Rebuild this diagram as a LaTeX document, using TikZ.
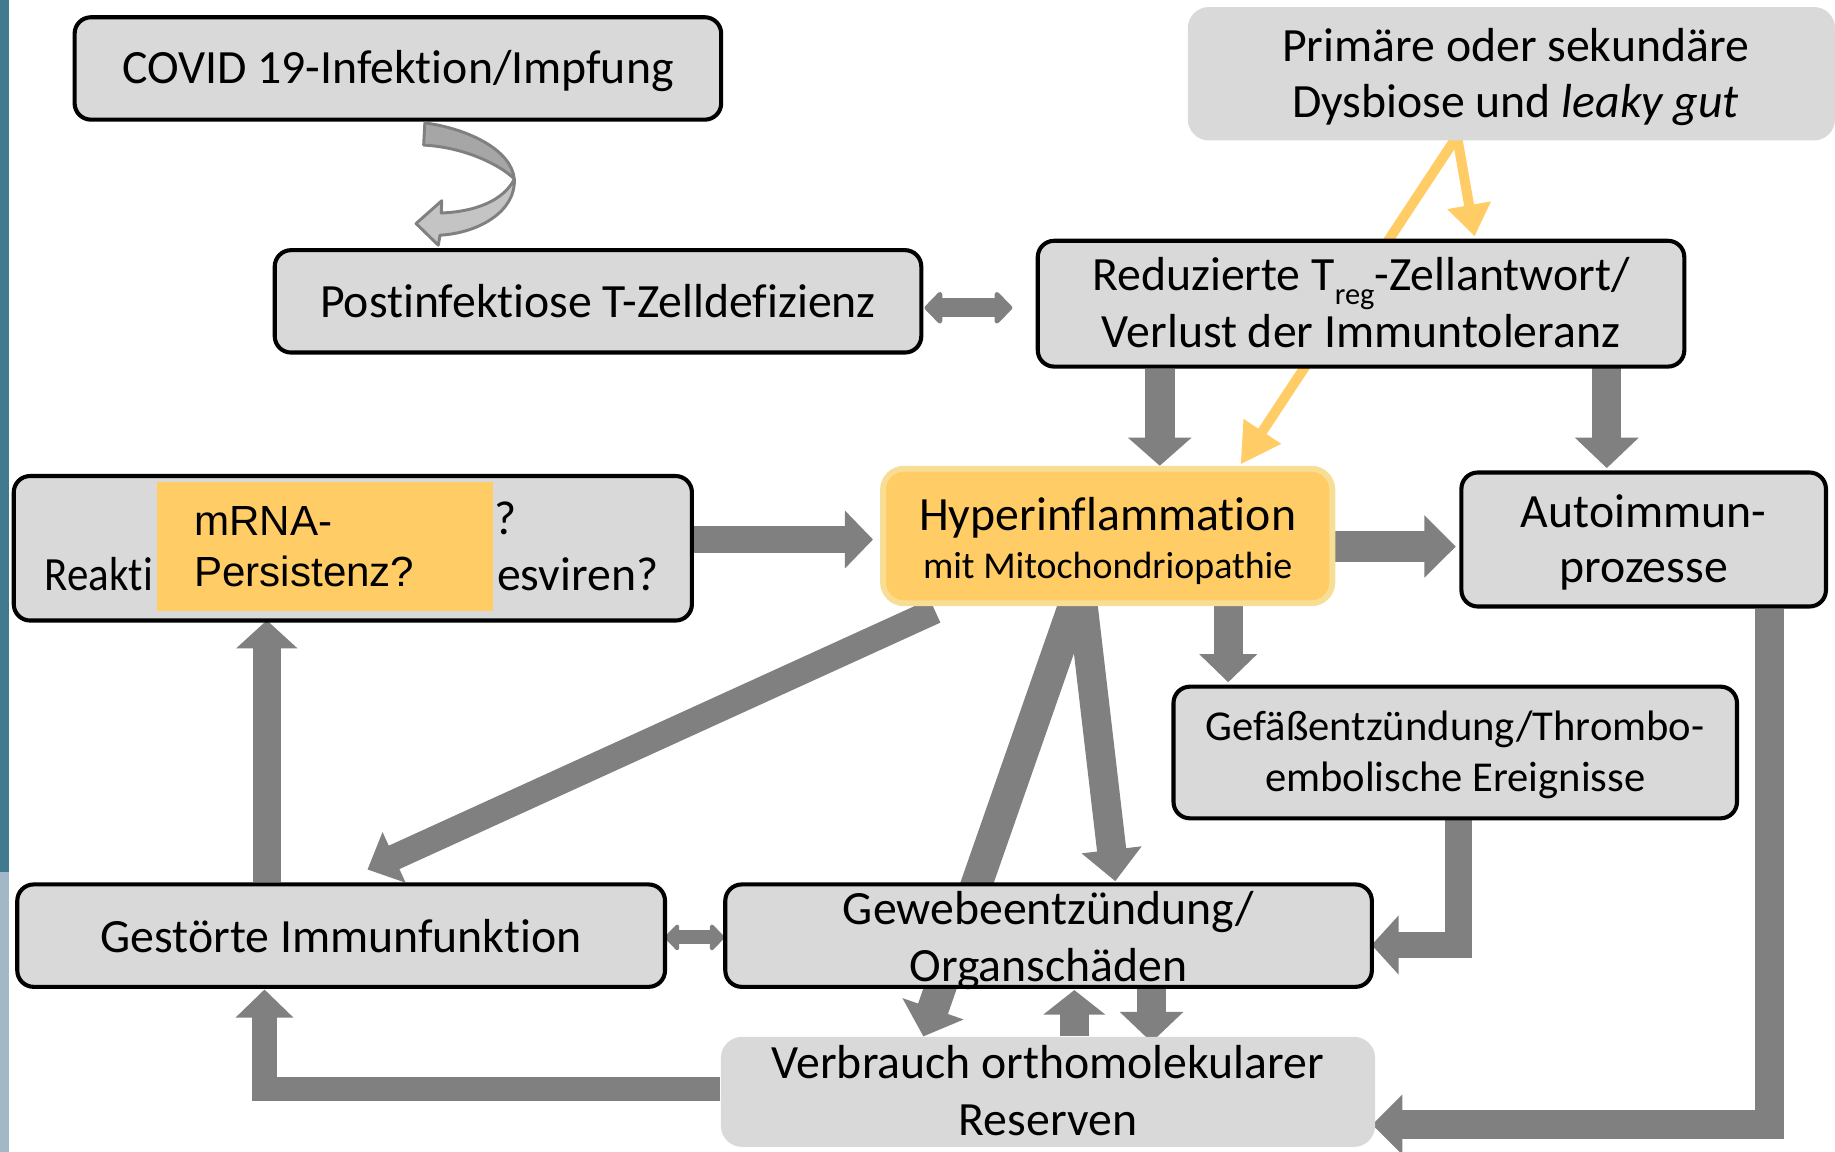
\documentclass[tikz,border=0pt]{standalone}
\usepackage{fontspec}
\usepackage{graphicx}
\setmainfont[Ligatures={NoCommon}]{Carlito}
\newfontfamily\arialf{Liberation Sans}
\usetikzlibrary{arrows.meta,backgrounds}
\definecolor{boxgray}{HTML}{D9D9D9}
\definecolor{agray}{HTML}{808080}
\definecolor{orng}{HTML}{FFCC66}
\definecolor{paleyel}{HTML}{F8DE95}
\definecolor{bardark}{HTML}{41798F}
\definecolor{barlight}{HTML}{A2B8C7}
\definecolor{curvdark}{HTML}{A6A6A6}
\definecolor{curvlight}{HTML}{C4C4C4}
% line whose box is exactly its cap height (plus an optional extra), no depth
\newcommand{\cl}[2][0pt]{\raisebox{0pt}[\dimexpr0.644em+#1\relax][0pt]{#2}}
\begin{document}
\begin{tikzpicture}[x=0.5pt,y=-0.5pt,
  box/.style={draw=black,line width=1.75pt,fill=boxgray,rounded corners=7pt,inner sep=0pt,align=center,font=\fontsize{20.4}{24}\selectfont},
  plainbox/.style={fill=boxgray,rounded corners=9pt,inner sep=0pt,align=center,font=\fontsize{20.4}{24.5}\selectfont},
  blk/.style n args={3}{draw=agray,line width=#1,-{Triangle[width=#2,length=#3]}},
  dbl/.style n args={3}{draw=agray,line width=#1,line join=round,{Triangle[round,width=#2,length=#3]}-{Triangle[round,width=#2,length=#3]}},
  yel/.style n args={3}{draw=orng,line width=#1,-{Triangle[width=#2,length=#3]}},
  txt/.style={inner sep=0pt,align=center,font=\fontsize{20.4}{24}\selectfont}
]
\useasboundingbox (0,0) rectangle (1568,984);

% boxes
\node[box,minimum width=276.25pt,minimum height=43.75pt] (covid) at (340,58.5) {\cl{COVID 19-Infektion/Impfung}};
\node[box,minimum width=276.25pt,minimum height=43.75pt] (post) at (511,257.5) {\cl[1pt]{Postinfektiose T-Zelldefizienz}};
\node[plainbox,minimum width=276.5pt,minimum height=57pt] (prim) at (1291.5,63) {};
\node[txt] (primtxt) at (1295,63) {\cl{Primäre oder sekundäre}\\\cl{Dysbiose und \textit{leaky gut}}};
\node[box,minimum width=276.25pt,minimum height=53.75pt] (red) at (1163,259.5)
  {\cl{Reduzierte T\raisebox{-0.28em}{\fontsize{13}{13}\selectfont reg}-Zellantwort/}\\\cl{Verlust der Immuntoleranz}};
\node[box,minimum width=289.75pt,minimum height=61.75pt] (reak) at (301.5,468.5) {};
\node[txt,anchor=base west] (reakq) at (422,457) {?};
\node[txt,anchor=base west] (reaka) at (38,505) {\scalebox{0.9}[1]{Reakti}};
\node[txt,anchor=base east] (reakb) at (563,505) {esviren?};
\node[fill=orng,inner xsep=16pt,inner ysep=0pt,text width=111.5pt,minimum height=55pt,align=left,
  font=\arialf\fontsize{18}{22}\selectfont] (mrna) at (277.5,467) {mRNA-\\Persistenz?};
\node[draw=paleyel,line width=2.5pt,fill=orng,rounded corners=9pt,inner sep=0pt,align=center,
  minimum width=192pt,minimum height=57.5pt,font=\fontsize{20.4}{20.35}\selectfont] (hyper) at (946.5,458)
  {\cl[2.8pt]{Hyperinflammation}\\{\fontsize{16.2}{20.35}\selectfont\cl{mit Mitochondriopathie}}};
\node[box,minimum width=155.75pt,minimum height=57.25pt,font=\fontsize{20.4}{23.5}\selectfont] (auto) at (1404.5,461) {\cl{Autoimmun-}\\\cl{prozesse}};
\node[box,minimum width=240.75pt,minimum height=56.25pt,font=\fontsize{18.2}{22}\selectfont] (gef) at (1243.5,643)
  {\cl{Gefäßentzündung/Thrombo-}\\\cl{embolische Ereignisse}};
\node[box,minimum width=276.75pt,minimum height=43.75pt] (gest) at (291.5,799.5) {\cl[1pt]{Gestörte Immunfunktion}};
\node[box,minimum width=276.25pt,minimum height=43.75pt,font=\fontsize{20.4}{24.5}\selectfont] (gew) at (896,799.5) {\cl[1.5pt]{Gewebeentzündung/}\\\cl{Organschäden}};
\node[plainbox,minimum width=279.5pt,minimum height=47pt] (verb) at (895.5,933) {\cl{Verbrauch orthomolekularer}\\\cl{Reserven}};

% curved arrow covid -> post
\fill[curvdark] (363,105) .. controls (400,110) and (437,128) .. (439.5,153)
  .. controls (430,143) and (400,126) .. (362,124) -- cycle;
\fill[curvlight] (439.5,153) .. controls (441,180) and (410,199) .. (376,201) -- (374.5,209.5) -- (355.5,191)
  -- (377.5,171.5) -- (377,182) .. controls (405,181) and (430,172) .. (439.5,153) -- cycle;
\draw[agray,line width=1.25pt,line join=round] (363,105) .. controls (400,110) and (437,128) .. (439.5,153)
  .. controls (441,180) and (410,199) .. (376,201) -- (374.5,209.5) -- (355.5,191)
  -- (377.5,171.5) -- (377,182) .. controls (405,181) and (430,172) .. (439.5,153)
  .. controls (430,143) and (400,126) .. (362,124) -- cycle;

\begin{pgfonlayer}{background}
  \fill[bardark] (0,0) rectangle (8,745);
  \fill[barlight] (0,745) rectangle (8,984);
  % yellow
  \draw[yel={4.25pt}{18pt}{17pt}] ([shift={(-23.25pt,2pt)}]prim.south) -- ([shift={(56.75pt,0.5pt)}]hyper.north);
  \draw[yel={4.25pt}{18pt}{13.5pt}] ([shift={(-23.25pt,2pt)}]prim.south) -- ([shift={(48.5pt,1pt)}]red.north);
  % grey
  \draw[dbl={8pt}{16pt}{8pt}] ([shift={(0.5pt,-2.75pt)}]post.east) -- ([shift={(-10pt,-1.75pt)}]red.west);
  \draw[blk={13pt}{26.5pt}{12pt}] ([xshift=-86pt]red.south) -- ([xshift=22.25pt]hyper.north);
  \draw[blk={12.5pt}{26.5pt}{13pt}] ([shift={(105pt,2pt)}]red.south) -- ([shift={(-15.75pt,1pt)}]auto.north);
  \draw[blk={11.5pt}{24pt}{12pt}] ([yshift=3.75pt]reak.east) -- ([shift={(-3pt,-1.5pt)}]hyper.west);
  \draw[blk={13pt}{26pt}{13.5pt}] ([shift={(-1.25pt,-4.5pt)}]hyper.east) -- ([shift={(-1.5pt,-3pt)}]auto.west);
  \draw[blk={12.5pt}{24pt}{12pt}] ([xshift=51.5pt]hyper.south) -- ([shift={(-97pt,1pt)}]gef.north);
  \draw[blk={11pt}{23pt}{12.5pt}] ([shift={(-73.75pt,-2pt)}]hyper.south) -- ([shift={(11.25pt,5.5pt)}]gest.north);
  \draw[blk={13.5pt}{27pt}{12.5pt}] ([shift={(-12.25pt,6.5pt)}]hyper.south) -- ([xshift=-53.25pt]verb.north);
  \draw[blk={12.5pt}{25pt}{13.5pt}] ([shift={(-11.25pt,6.5pt)}]hyper.south) -- ([shift={(28.5pt,0.5pt)}]gew.north);
  \draw[blk={12pt}{25.5pt}{12pt}] ([xshift=-31.75pt]gest.north) -- ([shift={(-36.75pt,1pt)}]reak.south);
  \draw[dbl={6pt}{13pt}{6.5pt}] ([shift={(-1pt,-0.75pt)}]gest.east) -- ([shift={(0.5pt,-0.75pt)}]gew.west);
  \draw[blk={11.5pt}{24.5pt}{11.5pt}] ([xshift=1.25pt]gef.south) |- ([shift={(-1pt,-4pt)}]gew.east);
  \draw[blk={12.5pt}{25pt}{13pt}] ([xshift=53.75pt]auto.south) |- ([shift={(-1.5pt,-14pt)}]verb.east);
  \draw[blk={12.5pt}{26pt}{10.5pt}] ([xshift=11.25pt]verb.north) -- ([shift={(11pt,-0.5pt)}]gew.south);
  \draw[blk={12.5pt}{26.5pt}{13pt}] ([xshift=44pt]gew.south) -- ([shift={(44.25pt,-2.5pt)}]verb.north);
  \draw[blk={10.5pt}{24pt}{12pt}] ([yshift=1.25pt]verb.west) -| ([shift={(-32.75pt,-0.25pt)}]gest.south);
\end{pgfonlayer}
\end{tikzpicture}
\end{document}
